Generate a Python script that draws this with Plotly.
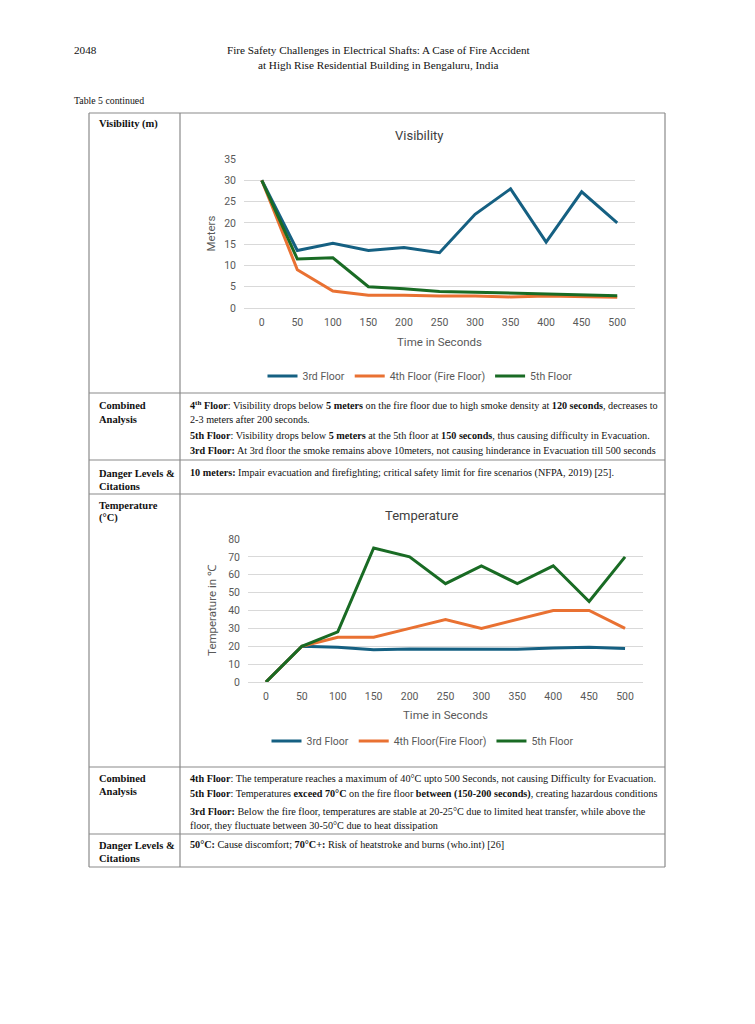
import plotly.graph_objects as go

W, H = 755, 1024

# ---------------- data ----------------
times = [0, 50, 100, 150, 200, 250, 300, 350, 400, 450, 500]
time_ticks = ["0", "50", "100", "150", "200", "250", "300", "350", "400", "450", "500"]

vis_3rd = [30, 13.5, 15.2, 13.5, 14.2, 13.0, 22.0, 28.0, 15.5, 27.3, 20.0]
vis_4th = [30, 9.0, 4.0, 3.0, 3.0, 2.8, 2.8, 2.6, 2.8, 2.6, 2.5]
vis_5th = [30, 11.5, 11.8, 5.0, 4.5, 3.9, 3.7, 3.5, 3.3, 3.0, 2.9]

temp_3rd = [0, 20, 19.5, 18.0, 18.5, 18.3, 18.3, 18.3, 19.0, 19.5, 18.7]
temp_4th = [0, 20, 25, 25, 30, 35, 30, 35, 40, 40, 30]
temp_5th = [0, 20, 28, 75, 70, 55, 65, 55, 65, 45, 70]

vis_names = ["3rd Floor", "4th Floor (Fire Floor)", "5th Floor"]
temp_names = ["3rd Floor", "4th Floor(Fire Floor)", "5th Floor"]
colors = ["#156082", "#E97132", "#196B24"]


def X(px):
    return px / W


def Y(py):
    return 1 - py / H


fig = go.Figure()

for name, vals, c in zip(vis_names, [vis_3rd, vis_4th, vis_5th], colors):
    fig.add_trace(go.Scatter(x=times, y=vals, mode="lines", name=name,
                             line=dict(color=c, width=3),
                             xaxis="x", yaxis="y", legend="legend"))

for name, vals, c in zip(temp_names, [temp_3rd, temp_4th, temp_5th], colors):
    fig.add_trace(go.Scatter(x=times, y=vals, mode="lines", name=name,
                             line=dict(color=c, width=3),
                             xaxis="x2", yaxis="y2", legend="legend2"))

CF = "Roboto"
TICK = dict(family=CF, size=10.5, color="#595959")
AX_T = dict(family=CF, size=11.5, color="#595959")
GRID = "#D9D9D9"

common_x = dict(tickmode="array", tickvals=times, ticktext=time_ticks,
                range=[-25, 525], showgrid=False, zeroline=False,
                showline=True, linecolor=GRID, linewidth=1,
                ticks="", tickfont=TICK, fixedrange=True,
                ticklabelstandoff=4)
common_y = dict(showgrid=True, gridcolor=GRID, gridwidth=1, zeroline=False,
                showline=False, ticks="", tickfont=TICK, fixedrange=True,
                ticklabelstandoff=7)

fig.update_layout(
    width=W, height=H,
    margin=dict(l=0, r=0, t=0, b=0, autoexpand=False),
    paper_bgcolor="white", plot_bgcolor="white",
    xaxis=dict(domain=[X(244), X(635)], anchor="y",
               title=dict(text="Time in Seconds", font=AX_T, standoff=10),
               automargin=False, **common_x),
    yaxis=dict(domain=[Y(308), Y(159)], anchor="x", range=[0, 35], dtick=5,
               title=dict(text="Meters", font=AX_T, standoff=6),
               automargin=False, **common_y),
    xaxis2=dict(domain=[X(248), X(643)], anchor="y2",
                title=dict(text="Time in Seconds", font=AX_T, standoff=9),
                automargin=False, **common_x),
    yaxis2=dict(domain=[Y(682), Y(539)], anchor="x2", range=[0, 80], dtick=10,
                title=dict(text="Temperature in ℃", font=AX_T, standoff=9),
                automargin=False, **common_y),
    legend=dict(orientation="h", x=X(420), y=Y(376), xanchor="center",
                yanchor="middle", font=dict(family=CF, size=10.5, color="#595959"),
                bgcolor="rgba(0,0,0,0)", itemwidth=30),
    legend2=dict(orientation="h", x=X(423), y=Y(741), xanchor="center",
                 yanchor="middle", font=dict(family=CF, size=10.5, color="#595959"),
                 bgcolor="rgba(0,0,0,0)", itemwidth=30),
    showlegend=True,
)

# ---------------- table lines ----------------
LC = "#8a8a8a"
shapes = []
for yy in [113, 393, 460, 494, 767, 834, 867]:
    shapes.append(dict(type="line", xref="paper", yref="paper",
                       x0=X(89), x1=X(665), y0=Y(yy), y1=Y(yy),
                       line=dict(color=LC, width=1.2)))
for xx in [89, 180, 665]:
    shapes.append(dict(type="line", xref="paper", yref="paper",
                       x0=X(xx), x1=X(xx), y0=Y(113), y1=Y(867),
                       line=dict(color=LC, width=1.2)))
fig.update_layout(shapes=shapes)

# ---------------- texts ----------------
SF = "Liberation Serif"
anns = []
BODY = 10.2
LAB = 10.5


def txt(x, y, s, size=BODY, anchor="left", color="#111111", family=SF):
    anns.append(dict(x=X(x), y=Y(y), xref="paper", yref="paper", text=s,
                     showarrow=False, xanchor=anchor, yanchor="middle",
                     font=dict(family=family, size=size, color=color)))


txt(72, 50, "2048", size=11.2)
txt(378, 50, "Fire Safety Challenges in Electrical Shafts: A Case of Fire Accident",
    size=11.2, anchor="center")
txt(378, 65, "at High Rise Residential Building in Bengaluru, India",
    size=11.2, anchor="center")
txt(72, 100, "Table 5 continued", size=9.8)

# left column labels
txt(97, 124, "<b>Visibility (m)</b>", size=LAB)
txt(97, 405, "<b>Combined</b>", size=LAB)
txt(97, 419, "<b>Analysis</b>", size=LAB)
txt(97, 473, "<b>Danger Levels &amp;</b>", size=LAB)
txt(97, 486, "<b>Citations</b>", size=LAB)
txt(97, 505, "<b>Temperature</b>", size=LAB)
txt(97, 518, "<b>(°C)</b>", size=LAB)
txt(97, 778, "<b>Combined</b>", size=LAB)
txt(97, 791, "<b>Analysis</b>", size=LAB)
txt(97, 845, "<b>Danger Levels &amp;</b>", size=LAB)
txt(97, 858, "<b>Citations</b>", size=LAB)

# visibility analysis
txt(188, 405, "<b>4<sup>th</sup> Floor</b>: Visibility drops below <b>5 meters</b> on the fire floor due to high smoke density at <b>120 seconds</b>, decreases to")
txt(188, 419, "2-3 meters after 200 seconds.")
txt(188, 435, "<b>5th Floor</b>: Visibility drops below <b>5 meters</b> at the 5th floor at <b>150 seconds</b>, thus causing difficulty in Evacuation.")
txt(188, 450, "<b>3rd Floor:</b> At 3rd floor the smoke remains above 10meters, not causing hinderance in Evacuation till 500 seconds")
txt(188, 473, "<b>10 meters:</b> Impair evacuation and firefighting; critical safety limit for fire scenarios (NFPA, 2019) [25].")

# temperature analysis
txt(188, 778, "<b>4th Floor</b>: The temperature reaches a maximum of 40°C upto 500 Seconds, not causing Difficulty for Evacuation.")
txt(188, 794, "<b>5th Floor</b>: Temperatures <b>exceed 70°C</b> on the fire floor <b>between (150-200 seconds)</b>, creating hazardous conditions")
txt(188, 811, "<b>3rd Floor:</b> Below the fire floor, temperatures are stable at 20-25°C due to limited heat transfer, while above the")
txt(188, 825, "floor, they fluctuate between 30-50°C due to heat dissipation")
txt(188, 845, "<b>50°C:</b> Cause discomfort; <b>70°C+:</b> Risk of heatstroke and burns (who.int) [26]")

# chart titles
txt(420, 135, "Visibility", size=13, anchor="center", color="#404040", family=CF)
txt(422, 515, "Temperature", size=13, anchor="center", color="#404040", family=CF)

fig.update_layout(annotations=anns)

fig.write_html(
    "out.html",
    config={"displayModeBar": False},
    post_script=("document.documentElement.style.margin='0px';"
                 "document.documentElement.style.overflow='hidden';"
                 "document.body.style.margin='0px';"
                 "document.body.style.padding='0px';"
                 "document.body.style.overflow='hidden';"),
)
